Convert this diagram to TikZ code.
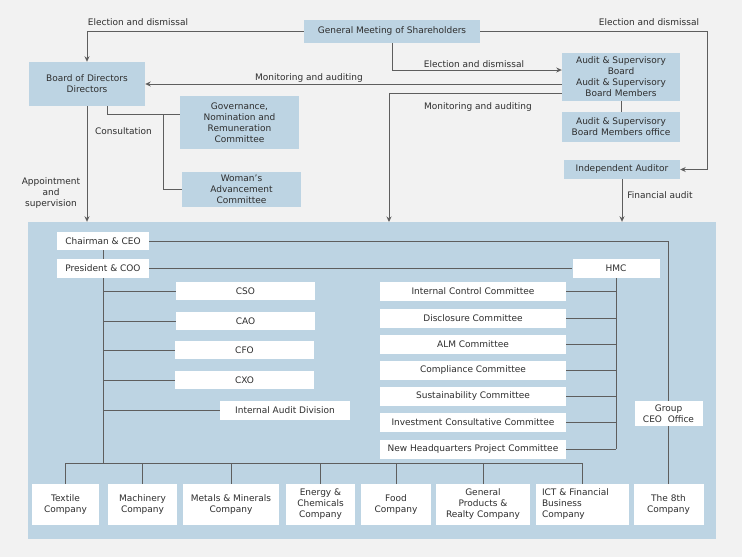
\documentclass[tikz,border=0pt]{standalone}
\usepackage{fontspec}
\setmainfont{DejaVu Sans}
\usetikzlibrary{positioning,arrows.meta}
\definecolor{bgGray}{HTML}{F2F2F2}
\definecolor{boxBlue}{HTML}{BDD4E3}
\definecolor{lineGray}{HTML}{5E5E5E}
\definecolor{textGray}{HTML}{2E2E2E}
\tikzset{x=1pt, y=-1pt, % pixel grid of the chart
  every node/.style={font=\fontsize{9}{11}\selectfont, text=textGray, inner sep=1pt},
  sz/.style 2 args={minimum width=#1pt, minimum height=#2pt},
  blue box/.style={fill=boxBlue, align=center},
  white box/.style={fill=white, align=center},
  lbl/.style={align=center},
  conn/.style={draw=lineGray, line width=0.9pt},
  arr/.style={conn, -{Stealth[length=5.5pt,width=5pt]}}}

\begin{document}
\begin{tikzpicture}
  \fill[bgGray] (0,0) rectangle (742,557);
  \useasboundingbox (0,0) rectangle (742,557);
  \node[fill=boxBlue, sz={688}{317}] (panel) at (372,380.5) {};

  % governance bodies
  \node[blue box, sz={176}{23}] (gms) at (392,31.5) {General Meeting of Shareholders};
  \node[blue box, sz={116}{44}] (bod) at (87,84) {Board of Directors\\Directors};
  \node[blue box, sz={119}{53}] (gnrc) at (239.5,122.5) {Governance,\\Nomination and\\Remuneration\\Committee};
  \node[blue box, sz={119}{35}] (wac) at (241.5,189.5) {Woman’s\\Advancement\\Committee};
  \node[blue box, sz={118}{48}] (asb) at (621,77) {Audit \& Supervisory\\Board\\Audit \& Supervisory\\Board Members};
  \node[blue box, sz={118}{30}] (asbo) at (621,127) {Audit \& Supervisory\\Board Members office};
  \node[blue box, sz={116}{19}] (ia) at (622,169.5) {Independent Auditor};

  \node[lbl] (elL) at (138,22) {Election and dismissal};
  \node[lbl] (elR) at (649,22) {Election and dismissal};
  \node[lbl] (elM) at (474,64) {Election and dismissal};
  \node[lbl] (monA) at (309,78) {Monitoring and auditing};
  \node[lbl] (monB) at (478,107) {Monitoring and auditing};
  \node[lbl] (cons) at (123.5,131) {Consultation};
  \node[lbl] (appt) at (51,193) {Appointment\\and\\supervision};
  \node[lbl] (fin) at (660,195) {Financial audit};

  \coordinate (elr) at (707,31.5);
  \coordinate (mon) at (389,222);
  \coordinate (cbr) at (163,114);
  \draw[arr] (gms.west) -| (bod.north);
  \draw[arr] (gms.east) -- (elr) |- (ia.east);
  \draw[arr] (gms.south) |- ([yshift=7pt]asb.west);
  \draw[arr] ([yshift=-7pt]asb.west) -- (bod.east);
  \draw[arr] ([yshift=-16pt]asb.west) -| (mon);
  \draw[conn] (asb.south) -- (asbo.north);
  \draw[arr] (ia.south) -- (ia.south |- panel.north);
  \draw[arr] (bod.south) -- (bod.south |- panel.north);
  \draw[conn] ([xshift=20pt]bod.south) |- ([yshift=8.5pt]gnrc.west);
  \draw[conn] (cbr) |- (wac.west);

  % executive organisation
  \node[white box, sz={92}{18}] (chair) at (103,241) {Chairman \& CEO};
  \node[white box, sz={92}{19}] (pres) at (103,268.5) {President \& COO};
  \node[white box, sz={87}{19}] (hmc) at (616,268.5) {HMC};
  \node[white box, sz={139}{18}] (cso) at (245.5,291) {CSO};
  \node[white box, sz={139}{18}] (cao) at (245.5,321) {CAO};
  \node[white box, sz={139}{18}] (cfo) at (244.5,350) {CFO};
  \node[white box, sz={139}{18}] (cxo) at (244.5,380) {CXO};
  \node[white box, sz={130}{19}] (iad) at (285,410) {Internal Audit Division};
  \node[white box, sz={186}{19}] (icc) at (473,291) {Internal Control Committee};
  \node[white box, sz={186}{19}] (dsc) at (473,318) {Disclosure Committee};
  \node[white box, sz={186}{19}] (alm) at (473,344) {ALM Committee};
  \node[white box, sz={186}{19}] (cpc) at (473,370) {Compliance Committee};
  \node[white box, sz={186}{19}] (sus) at (473,396) {Sustainability Committee};
  \node[white box, sz={186}{19}] (inv) at (473,422) {Investment Consultative Committee};
  \node[white box, sz={186}{19}] (nhq) at (473,449) {New Headquarters Project Committee};
  \node[white box, sz={68}{25}] (gceo) at (668.5,413.5) {Group\\CEO\ \ Office};

  % companies
  \node[white box, sz={67}{41}] (tex) at (65.5,504.5) {Textile\\Company};
  \node[white box, sz={69}{41}] (mach) at (142.5,504.5) {Machinery\\Company};
  \node[white box, sz={96}{41}] (metal) at (231,504.5) {Metals \& Minerals\\Company};
  \node[white box, sz={69}{41}] (ener) at (320.5,504.5) {Energy \&\\Chemicals\\Company};
  \node[white box, sz={70}{41}] (food) at (396,504.5) {Food\\Company};
  \node[white box, sz={94}{41}] (genp) at (483,504.5) {General\\Products \&\\Realty Company};
  \node[white box, sz={93}{41}, text width=81pt, align=left] (ict) at (582.5,504.5) {ICT \& Financial\\Business\\Company};
  \node[white box, sz={70}{41}] (eighth) at (668.5,504.5) {The 8th\\Company};

  \coordinate (bar) at (103,463);
  \draw[conn] (chair) -- (pres);
  \draw[conn] (pres.south) -- (bar);
  \draw[conn] (pres.south |- cso) -- (cso.west);
  \draw[conn] (pres.south |- cao) -- (cao.west);
  \draw[conn] (pres.south |- cfo) -- (cfo.west);
  \draw[conn] (pres.south |- cxo) -- (cxo.west);
  \draw[conn] (pres.south |- iad) -- (iad.west);
  \draw[conn] (chair.east) -| (gceo.north);
  \draw[conn] (gceo.south) -- (eighth.north);
  \draw[conn] (pres.east) -- (hmc.west);
  \draw[conn] (hmc.south) -- (hmc.south |- nhq);
  \draw[conn] (icc.east) -- (icc.east -| hmc.south);
  \draw[conn] (dsc.east) -- (dsc.east -| hmc.south);
  \draw[conn] (alm.east) -- (alm.east -| hmc.south);
  \draw[conn] (cpc.east) -- (cpc.east -| hmc.south);
  \draw[conn] (sus.east) -- (sus.east -| hmc.south);
  \draw[conn] (inv.east) -- (inv.east -| hmc.south);
  \draw[conn] (nhq.east) -- (nhq.east -| hmc.south);
  \draw[conn] (tex.north |- bar) -- (ict.north |- bar);
  \draw[conn] (tex.north) -- (tex.north |- bar);
  \draw[conn] (mach.north) -- (mach.north |- bar);
  \draw[conn] (metal.north) -- (metal.north |- bar);
  \draw[conn] (ener.north) -- (ener.north |- bar);
  \draw[conn] (food.north) -- (food.north |- bar);
  \draw[conn] (genp.north) -- (genp.north |- bar);
  \draw[conn] (ict.north) -- (ict.north |- bar);
\end{tikzpicture}
\end{document}
